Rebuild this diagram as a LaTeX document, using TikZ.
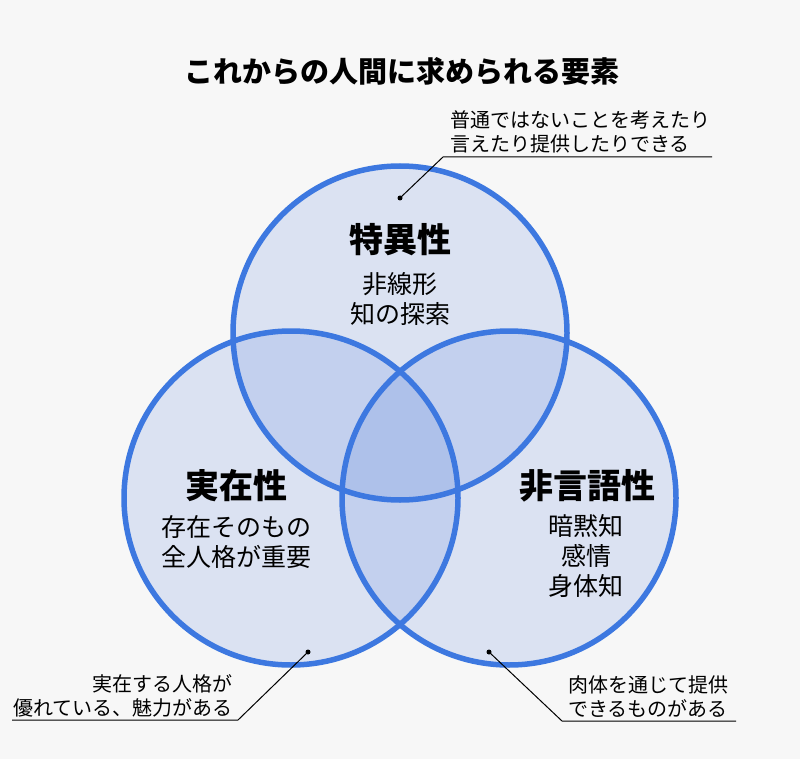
\documentclass[tikz,border=0pt]{standalone}
\usepackage{fontspec}
\setmainfont{Noto Sans CJK JP}
\definecolor{bg}{HTML}{F7F7F7}
\definecolor{ring}{HTML}{3D78E0}
\definecolor{fillc}{HTML}{3C6FD8}
\begin{document}
\begin{tikzpicture}[x=1pt,y=-1pt,
  ringc/.style={draw=ring,line width=5.5pt},
  area/.style={fill=fillc,fill opacity=0.15},
  head/.style={font=\fontsize{34}{38}\selectfont\bfseries},
  body/.style={font=\fontsize{25}{30}\selectfont,align=center},
  note/.style={font=\fontsize{20}{24}\selectfont},
  lead/.style={draw=black,line width=1pt}]
\fill[bg] (0,0) rectangle (800,759);
\useasboundingbox (0,0) rectangle (800,759);
\node[font=\fontsize{29}{33}\selectfont\bfseries] (title) at (402,71) {これからの人間に求められる要素};
\coordinate (ct) at (400,333);
\coordinate (cl) at (291,498);
\coordinate (cr) at (509,498);
\fill[area] (ct) circle (167);
\fill[area] (cl) circle (167);
\fill[area] (cr) circle (167);
\draw[ringc] (ct) circle (167);
\draw[ringc] (cl) circle (167);
\draw[ringc] (cr) circle (167);
\node[head] (h1) at (400,240) {特異性};
\node[body] (b1) at (400,299) {非線形\\知の探索};
\node[head] (h2) at (236,486) {実在性};
\node[body] (b2) at (236,542) {存在そのもの\\全人格が重要};
\node[head] (h3) at (587,486) {非言語性};
\node[body] (b3) at (586,556) {暗黙知\\感情\\身体知};
% top note
\node[note,align=left,anchor=south west,inner sep=0pt] (n1) at (450,153) {普通ではないことを考えたり\\言えたり提供したりできる};
\coordinate (u1a) at (443,157);
\coordinate (u1b) at (712,157);
\fill (400,198) circle (2.5) coordinate (d1);
\draw[lead] (u1b) -- (u1a) -- (d1);
% left note
\node[note,align=right,anchor=south east,inner sep=0pt] (n2) at (233,717) {実在する人格が\\優れている、魅力がある};
\coordinate (u2a) at (12,720);
\coordinate (u2b) at (238,720);
\fill (308,652) circle (2.5) coordinate (d2);
\draw[lead] (u2a) -- (u2b) -- (d2);
% right note
\node[note,align=left,anchor=south west,inner sep=0pt] (n3) at (568,718) {肉体を通じて提供\\できるものがある};
\coordinate (u3a) at (562,721);
\coordinate (u3b) at (736,721);
\fill (489,652) circle (2.5) coordinate (d3);
\draw[lead] (u3b) -- (u3a) -- (d3);
\end{tikzpicture}
\end{document}
